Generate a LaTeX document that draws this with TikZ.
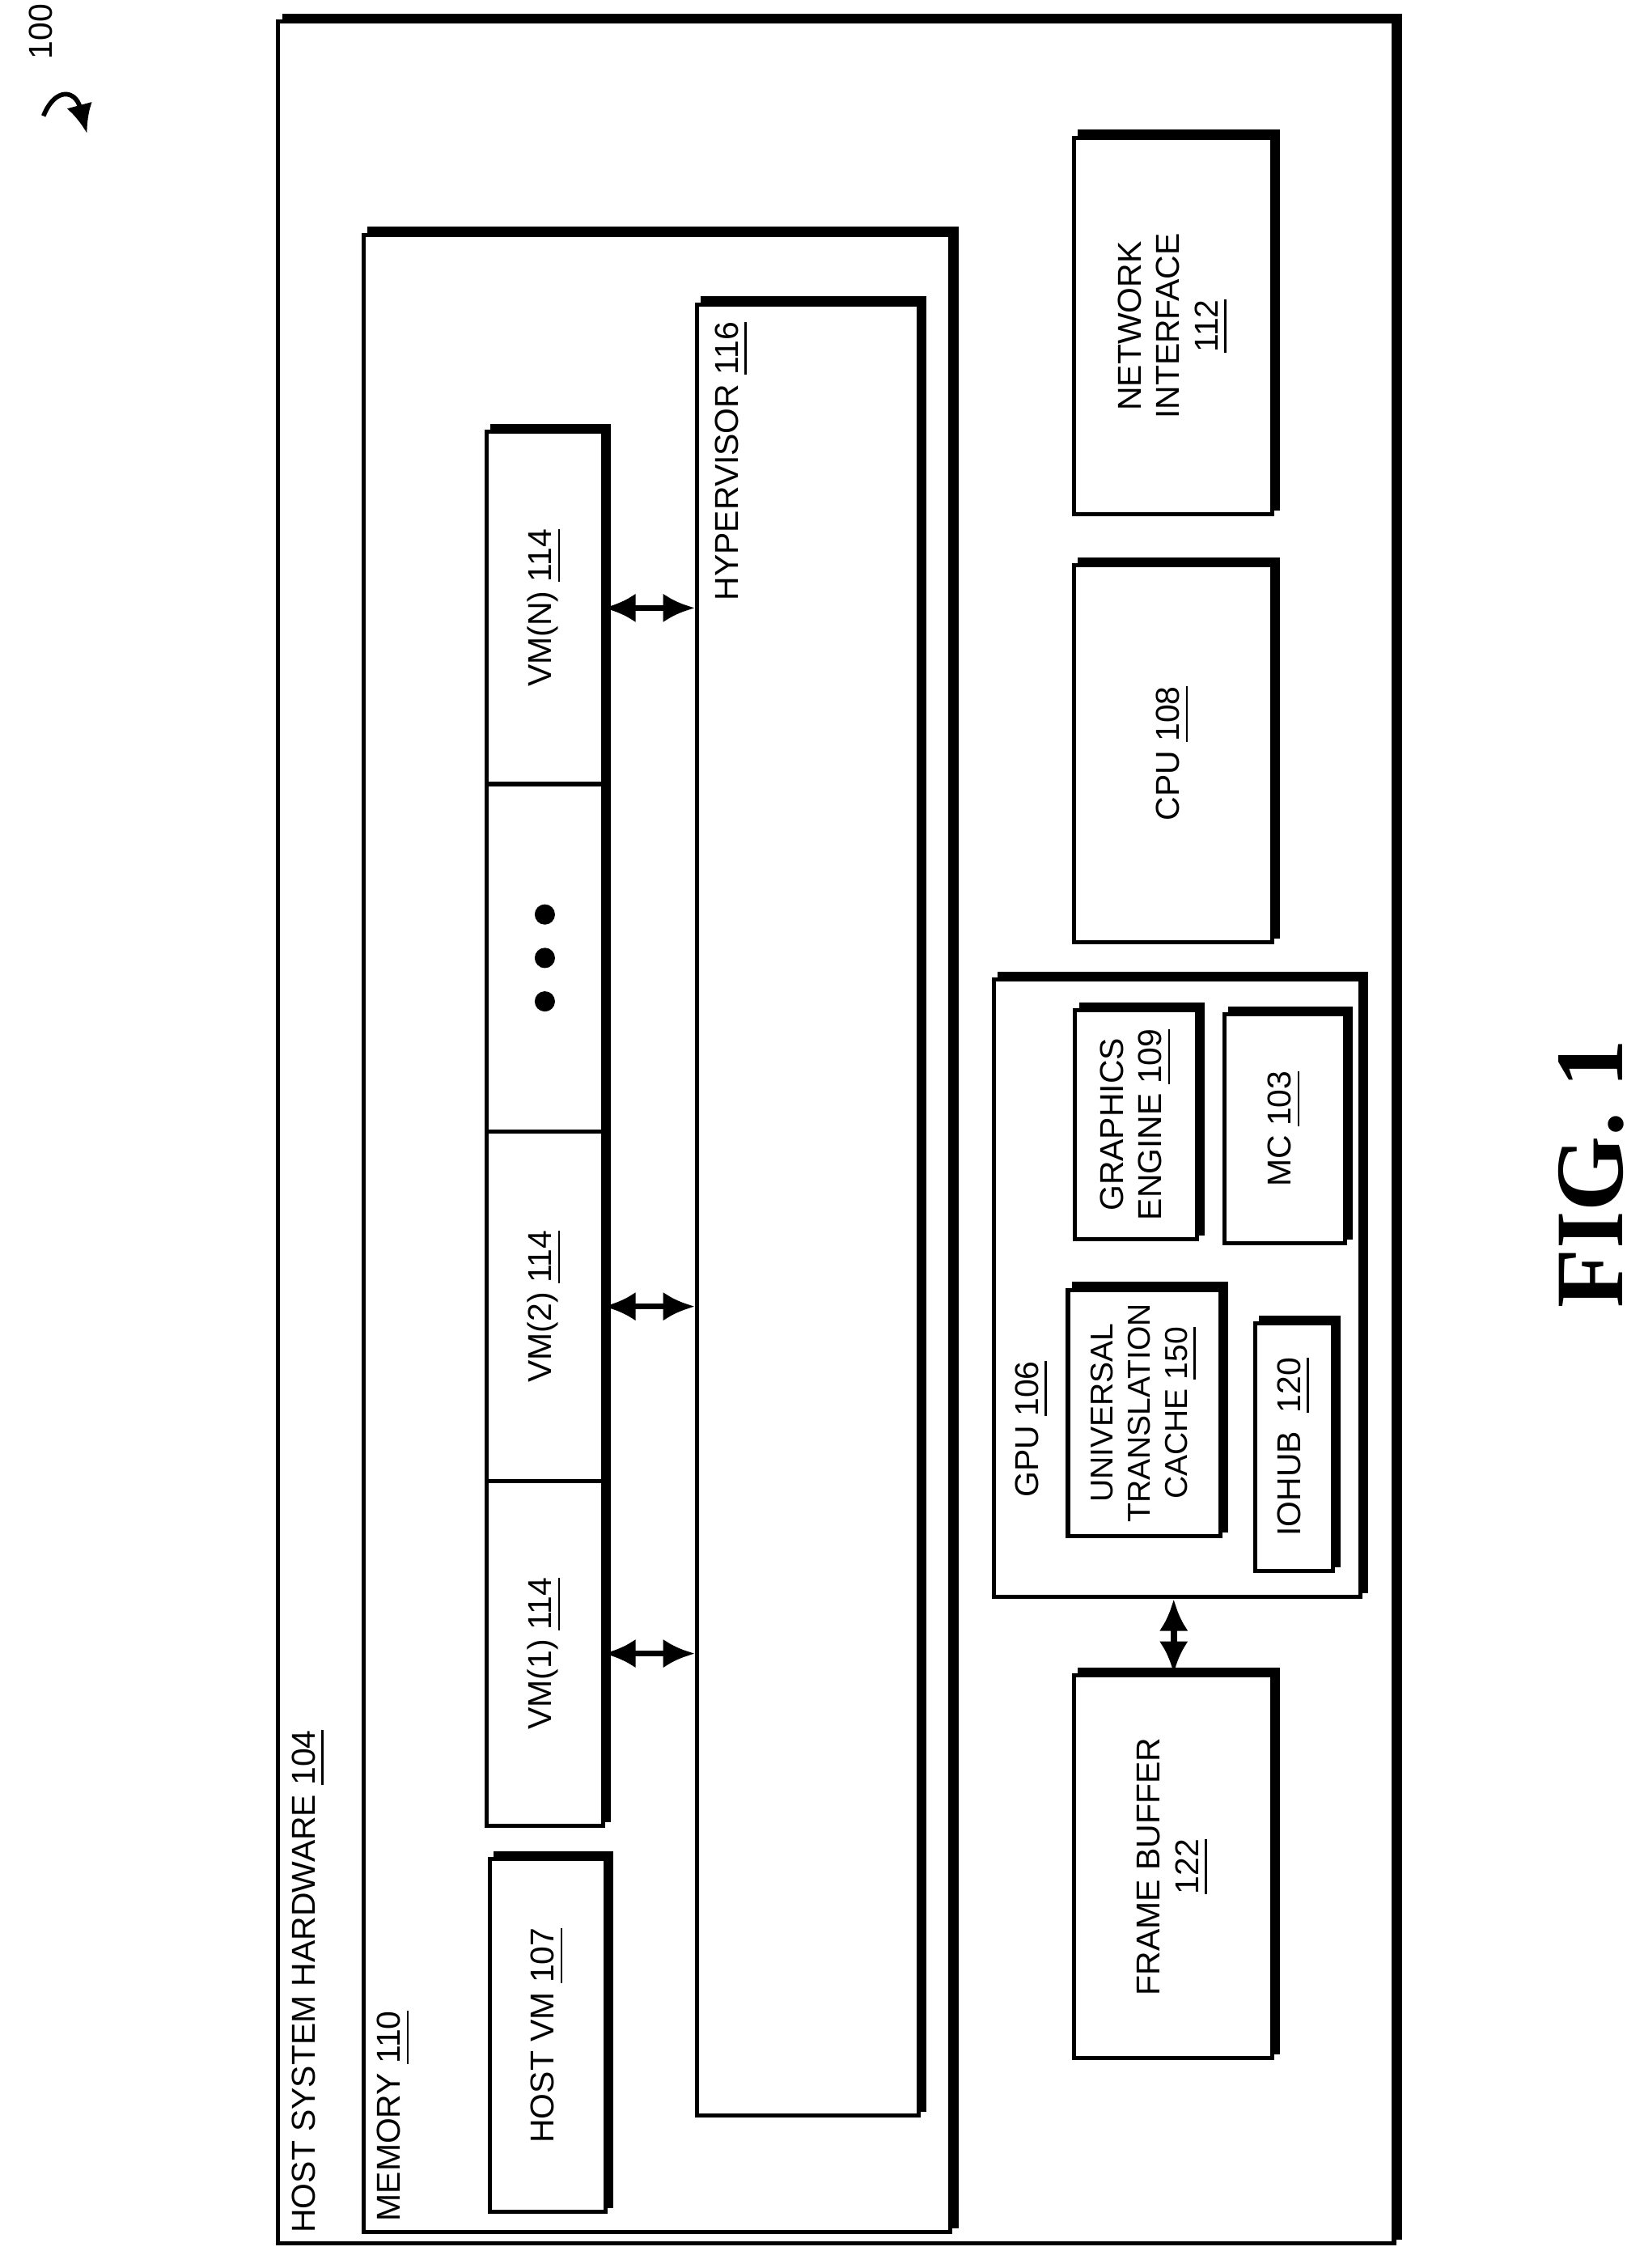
\documentclass[tikz,border=0pt]{standalone}
\usepackage{fontspec}
\setmainfont{Liberation Sans}
\newfontfamily\figfont{Liberation Serif}
\usetikzlibrary{fit,shadows,arrows.meta}
\tikzset{
  box/.style={draw,line width=0.8pt,fill=white,inner sep=0pt,
    copy shadow={shadow xshift=0.4mm,shadow yshift=0.4mm,fill=black}},
  cell/.style={inner sep=0pt},
  lbl/.style={rotate=90,font=\fontsize{6.5}{7.6}\selectfont,align=center,inner sep=1pt},
  link/.style={{Latex[length=2.2mm,width=2mm]}-{Latex[length=2.2mm,width=2mm]},line width=1.2pt}
}
\begin{document}
\begin{tikzpicture}[x=0.1mm,y=-0.1mm]
	\useasboundingbox (0,0) rectangle (1134,1565);
	%host and memory
	\node[box,fit={(192,15) (962,1548)}] (host) {};
	\node[lbl,anchor=west] at (213,1545) {HOST SYSTEM HARDWARE \underline{104}};
	\node[box,fit={(251,162) (656,1540)}] (mem) {};
	\node[lbl,anchor=west] at (272,1537) {MEMORY \underline{110}};
	\node[box,fit={(338,1283) (418,1526)}] (hostvm) {};
	\node[lbl] at (hostvm.center) {HOST VM \underline{107}};
	%virtual machines
	\node[box,fit={(336,298) (416,1260)}] (vms) {};
	\foreach \y in {541,781,1022} \draw[line width=0.8pt] (336,\y) -- (416,\y);
	\node[cell,fit={(336,298) (416,541)}] (vmN) {};
	\node[cell,fit={(336,541) (416,781)}] (vmdots) {};
	\node[cell,fit={(336,781) (416,1022)}] (vm2) {};
	\node[cell,fit={(336,1022) (416,1260)}] (vm1) {};
	\node[lbl] at (vmN.center) {VM(N) \underline{114}};
	\node[lbl] at (vm2.center) {VM(2) \underline{114}};
	\node[lbl] at (vm1.center) {VM(1) \underline{114}};
	\foreach \y in {-30,0,30} \fill ([yshift=\y*0.1mm]vmdots.center) circle (0.7mm);
	\node[box,fit={(481,210) (634,1460)}] (hyp) {};
	\node[lbl,anchor=east] at (505,218) {HYPERVISOR \underline{116}};
	\foreach \v in {vmN,vm2,vm1} \draw[link] (\v.east) -- (\v.east -| hyp.west);
	%right column
	\node[box,fit={(741,95) (878,355)}] (nic) {};
	\node[lbl] at (nic.center) {NETWORK\\INTERFACE\\\underline{112}};
	\node[box,fit={(741,390) (878,650)}] (cpu) {};
	\node[lbl] at (cpu.center) {CPU \underline{108}};
	\node[box,fit={(686,676) (939,1102)}] (gpu) {};
	\node[lbl,anchor=east] at (712,935) {GPU \underline{106}};
	\node[box,fit={(742,697) (826,855)}] (gfx) {};
	\node[lbl] at (gfx.center) {GRAPHICS\\ENGINE \underline{109}};
	\node[box,fit={(845,700) (928,858)}] (mc) {};
	\node[lbl] at (mc.center) {MC \underline{103}};
	\node[box,fit={(737,890) (842,1060)}] (utc) {};
	\node[lbl,font=\fontsize{6.2}{7.3}\selectfont] at (utc.center) {UNIVERSAL\\TRANSLATION\\CACHE \underline{150}};
	\node[box,fit={(866,913) (920,1084)}] (iohub) {};
	\node[lbl] at (iohub.center) {IOHUB \ \underline{120}};
	\node[box,fit={(741,1156) (878,1420)}] (fb) {};
	\node[lbl] at (fb.center) {FRAME BUFFER\\\underline{122}};
	\draw[link] (gpu.south -| 810,0) -- (fb.north -| 810,0);
	%figure label
	\node[rotate=90,font=\figfont\bfseries\fontsize{19}{22}\selectfont] (fig) at (1098,810) {FIG. 1};
	\node[lbl,anchor=west] (ref) at (28,45) {100};
	\coordinate (refend) at (60,92);
	\draw[line width=0.9pt,-{Latex[length=2mm,width=1.8mm]}] (30,80) .. controls (38,60) and (52,62) .. (refend);
\end{tikzpicture}
\end{document}
